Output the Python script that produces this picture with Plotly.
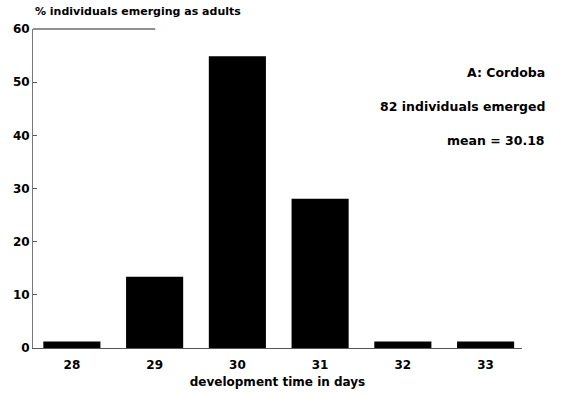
import plotly.graph_objects as go

# Development time (days) and number of individuals emerging on each day
days = ["28", "29", "30", "31", "32", "33"]
counts = [1, 11, 45, 23, 1, 1]
total = 82
percent = [c / total * 100 for c in counts]

y_ticks = [0, 10, 20, 30, 40, 50, 60]

site_label = "A: Cordoba"
n_label = "82 individuals emerged"
mean_label = "mean = 30.18"

FONT = "DejaVu Sans, Verdana, sans-serif"

fig = go.Figure(
    go.Bar(
        x=days,
        y=percent,
        marker=dict(color="#000000", line=dict(width=0)),
        width=0.69,
        hoverinfo="x+y",
    )
)

fig.update_layout(
    width=561,
    height=396,
    margin=dict(l=33, r=39, t=29, b=48),
    paper_bgcolor="white",
    plot_bgcolor="white",
    showlegend=False,
    font=dict(family=FONT, size=12, color="#000"),
    xaxis=dict(
        type="category",
        range=[-0.47, 5.44],
        automargin=False,
        showline=True,
        linecolor="#555",
        linewidth=1,
        showgrid=False,
        ticks="",
        ticklabelstandoff=6,
        tickfont=dict(family=FONT, size=12, color="#000", weight="bold"),
        title=dict(
            text="development time in days",
            font=dict(family=FONT, size=12, color="#000", weight="bold"),
            standoff=6,
        ),
    ),
    yaxis=dict(
        range=[0, 60],
        tickvals=y_ticks,
        automargin=False,
        showline=True,
        linecolor="#777",
        linewidth=1,
        showgrid=False,
        zeroline=False,
        ticks="inside",
        ticklen=4,
        tickcolor="#555",
        tickfont=dict(family=FONT, size=12, color="#000", weight="bold"),
    ),
)

# axis title above the y axis
fig.add_annotation(
    text="% individuals emerging as adults",
    xref="paper", yref="paper", x=0, y=1, xanchor="left", yanchor="bottom",
    yshift=9, showarrow=False,
    font=dict(family=FONT, size=11, color="#000", weight="bold"),
)

# partial top frame line
fig.add_shape(
    type="line", xref="paper", yref="paper", x0=0, x1=0.25, y0=1, y1=1,
    line=dict(color="#222", width=1),
)

for text, ypix in [(site_label, 72), (n_label, 106), (mean_label, 140)]:
    fig.add_annotation(
        text=text,
        xref="paper", yref="paper",
        x=(547 - 33) / (522 - 33), y=(348 - ypix) / (348 - 29),
        xanchor="right", yanchor="middle", showarrow=False,
        font=dict(family=FONT, size=12.5, color="#000", weight="bold"),
    )

fig.write_html("out.html")
